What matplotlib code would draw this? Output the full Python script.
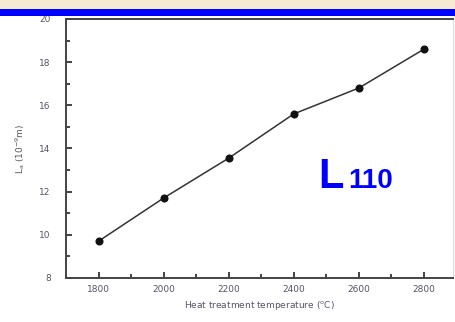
import matplotlib.pyplot as plt
from matplotlib.patches import Rectangle
from matplotlib.ticker import MultipleLocator

# data
temps = [1800, 2000, 2200, 2400, 2600, 2800]
la = [9.7, 11.7, 13.55, 15.6, 16.8, 18.6]
xticks = [1800, 2000, 2200, 2400, 2600, 2800]
yticks = [8, 10, 12, 14, 16, 18, 20]

fig = plt.figure(figsize=(4.55, 3.22), dpi=100)
fig.patch.set_facecolor('white')
ax = fig.add_axes([0.145, 0.137, 0.851, 0.804])

ax.plot(temps, la, color='#333333', lw=1.1, marker='o', ms=4.8,
        mfc='#111111', mec='#111111')

ax.set_xlim(1700, 2890)
ax.set_ylim(8, 20)
ax.set_xticks(xticks)
ax.set_yticks(yticks)
ax.xaxis.set_minor_locator(MultipleLocator(100))
ax.yaxis.set_minor_locator(MultipleLocator(1))
ax.tick_params(which='both', direction='in', color='#222222', width=1.2,
               labelsize=6.5, labelcolor='#555566')
ax.tick_params(which='major', length=4)
ax.tick_params(which='minor', length=3)
ax.tick_params(axis='y', pad=11)
ax.tick_params(axis='x', pad=5)

for side in ['left', 'bottom', 'top']:
    ax.spines[side].set_color('#444444')
    ax.spines[side].set_linewidth(1.4)
ax.spines['right'].set_color('#dddddd')
ax.spines['right'].set_linewidth(0.8)

ax.set_xlabel('Heat treatment temperature ($^{\\rm o}$C)', fontsize=6.5,
              color='#555566', labelpad=4)
ax.set_ylabel('L$_{\\rm a}$ (10$^{-9}$m)', fontsize=6.5, color='#555566',
              labelpad=9)

ax.text(2475, 12.15, 'L', color='#0000ff', fontsize=30, fontweight='bold',
        family='Liberation Sans', ha='left', va='baseline')
ax.text(2568, 12.15, '110', color='#0000ff', fontsize=20, fontweight='bold',
        family='Liberation Sans', ha='left', va='baseline')

# header strip: beige band and blue rule
fig.add_artist(Rectangle((0, 1 - 9.5 / 322), 1, 9.5 / 322, transform=fig.transFigure,
                         facecolor='#f6ead0', edgecolor='none', zorder=10))
fig.add_artist(Rectangle((0, 1 - 15.5 / 322), 1, 6 / 322, transform=fig.transFigure,
                         facecolor='#0000ff', edgecolor='none', zorder=10))

fig.savefig('out.png', dpi=100)
